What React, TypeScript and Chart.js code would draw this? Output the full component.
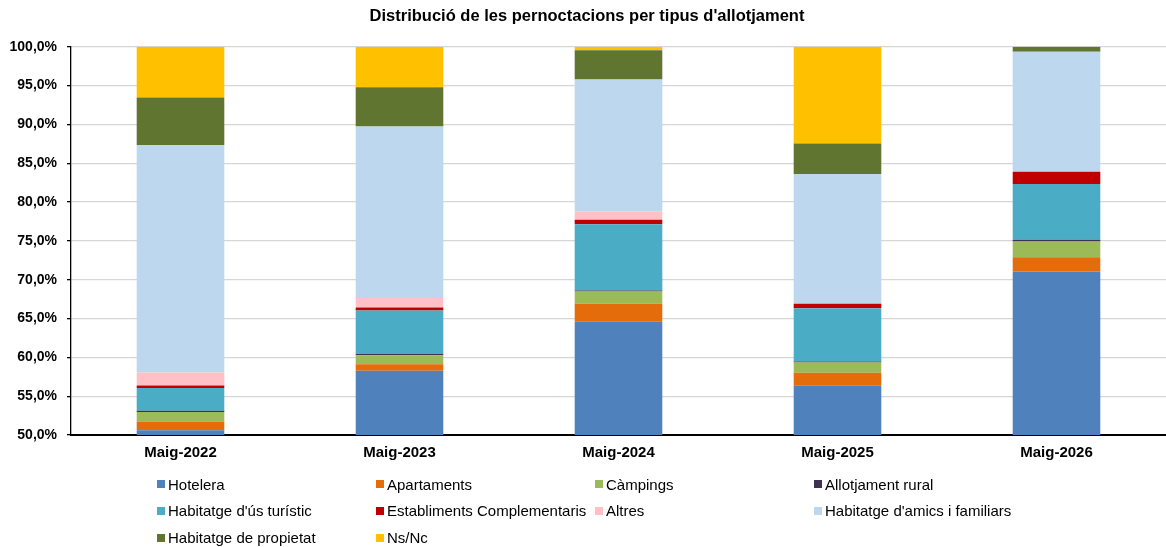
import React, { useEffect, useRef } from "react";
import { Chart, registerables } from "chart.js";

Chart.register(...registerables);

const categories = ["Maig-2022", "Maig-2023", "Maig-2024", "Maig-2025", "Maig-2026"];

const hotelera = [50.62, 58.28, 64.6, 56.34, 71.05];
const apartaments = [1.12, 0.82, 2.32, 1.68, 1.85];
const campings = [1.21, 1.16, 1.55, 1.33, 2.02];
const rural = [0.17, 0.17, 0.13, 0.13, 0.22];
const hut = [2.92, 5.59, 8.56, 6.84, 7.18];
const establiments = [0.35, 0.39, 0.56, 0.6, 1.59];
const altres = [1.67, 1.25, 1.08, 0, 0];
const amics = [29.25, 22.06, 16.98, 16.69, 15.44];
const propietat = [6.15, 5.08, 3.79, 3.92, 0.65];
const nsnc = [6.54, 5.2, 0.43, 12.47, 0];

const seriesLabels = [
  "Hotelera",
  "Apartaments",
  "Càmpings",
  "Allotjament rural",
  "Habitatge d'ús turístic",
  "Establiments Complementaris",
  "Altres",
  "Habitatge d'amics i familiars",
  "Habitatge de propietat",
  "Ns/Nc",
];
const seriesValues = [hotelera, apartaments, campings, rural, hut, establiments, altres, amics, propietat, nsnc];
const seriesColors = [
  "#4F81BD",
  "#E46C0A",
  "#9BBB59",
  "#403152",
  "#4BACC6",
  "#C00000",
  "#FFC0C6",
  "#BDD7EE",
  "#5F7530",
  "#FFC000",
];

const yMin = 50;
const yMax = 100;
const yStep = 5;

const FONT = "'Liberation Sans', Arial, sans-serif";

export default function App() {
  const canvasRef = useRef<HTMLCanvasElement | null>(null);

  useEffect(() => {
    document.body.style.margin = "0";
    const canvas = canvasRef.current;
    if (!canvas) return;
    const chart = new Chart(canvas, {
      type: "bar",
      data: {
        labels: categories,
        datasets: seriesLabels.map((label, i) => ({
          label,
          data: seriesValues[i],
          backgroundColor: seriesColors[i],
          borderWidth: 0,
          barPercentage: 0.4,
          categoryPercentage: 1,
        })),
      },
      options: {
        animation: false,
        responsive: false,
        maintainAspectRatio: false,
        layout: { padding: { left: 8, right: 0, top: 0, bottom: 82 } },
        plugins: {
          legend: { display: false },
          tooltip: { enabled: false },
          title: {
            display: true,
            text: "Distribució de les pernoctacions per tipus d'allotjament",
            color: "#000",
            font: { family: FONT, size: 16.5, weight: "bold", lineHeight: 1.2 },
            padding: { top: 7, bottom: 20 },
          },
        },
        scales: {
          x: {
            stacked: true,
            grid: { display: false, drawTicks: false },
            border: { display: true, color: "#000", width: 2 },
            ticks: {
              color: "#000",
              font: { family: FONT, size: 15, weight: "bold" },
              padding: 9,
              maxRotation: 0,
            },
            afterFit: (scale: any) => {
              scale.height = 30;
            },
          },
          y: {
            stacked: true,
            min: yMin,
            max: yMax,
            grid: {
              color: "#d6d6d6",
              lineWidth: 1.3,
              drawTicks: true,
              tickLength: 4,
              tickColor: "#000",
            },
            border: { display: true, color: "#000", width: 1.3 },
            ticks: {
              stepSize: yStep,
              color: "#000",
              padding: 10,
              font: { family: FONT, size: 14, weight: "bold" },
              callback: (v: any) => Number(v).toFixed(1).replace(".", ",") + "%",
            },
            afterFit: (scale: any) => {
              scale.width = 63;
            },
          },
        },
      },
    });
    return () => chart.destroy();
  }, []);

  return (
    <div style={{ position: "relative", width: 1166, height: 547, background: "#fff" }}>
      <canvas ref={canvasRef} width={1166} height={547} style={{ position: "absolute", left: 0, top: 0 }} />
      {seriesLabels.map((label, i) => {
        const col = i % 4;
        const row = Math.floor(i / 4);
        return (
          <div
            key={label}
            style={{
              position: "absolute",
              left: 157 + col * 219,
              top: 484 + row * 26.8 - 9,
              height: 18,
              display: "flex",
              alignItems: "center",
              fontFamily: FONT,
              fontSize: 15,
              color: "#000",
              whiteSpace: "nowrap",
            }}
          >
            <span
              style={{
                display: "inline-block",
                width: 8,
                height: 8,
                background: seriesColors[i],
                marginRight: 3,
              }}
            />
            {label}
          </div>
        );
      })}
    </div>
  );
}
